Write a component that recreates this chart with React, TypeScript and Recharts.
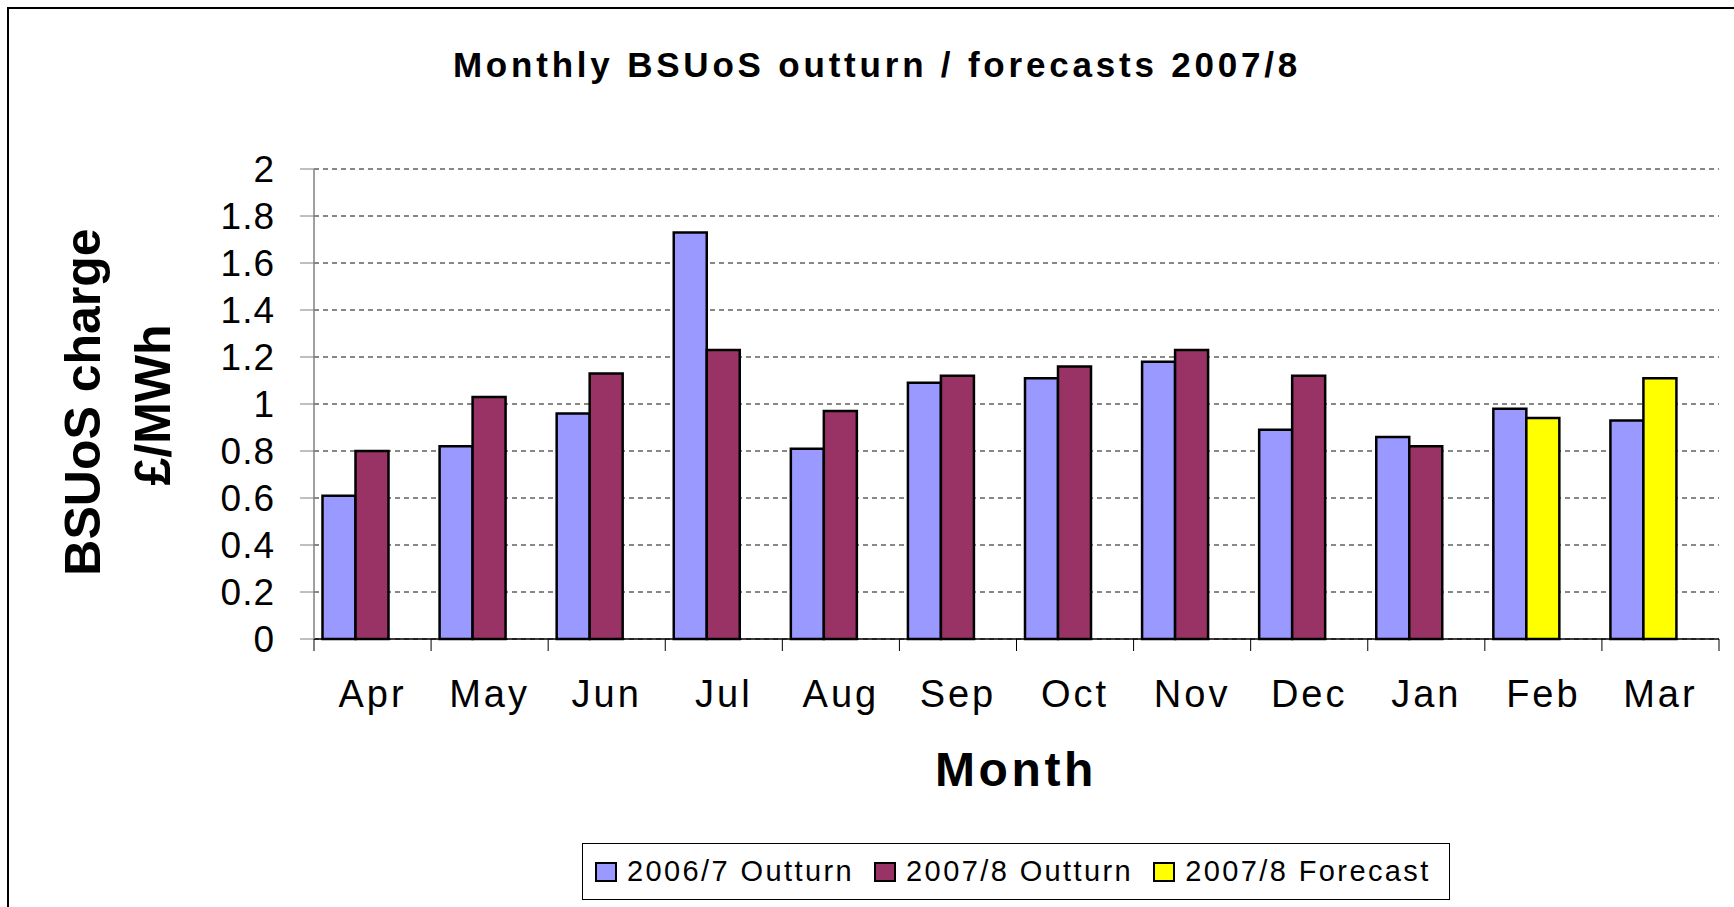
import { BarChart, Bar, XAxis, YAxis, CartesianGrid } from "recharts";

const FONT = "'Liberation Sans', Arial, sans-serif";

const months = ["Apr", "May", "Jun", "Jul", "Aug", "Sep", "Oct", "Nov", "Dec", "Jan", "Feb", "Mar"];
const outturn0607 = [0.61, 0.82, 0.96, 1.73, 0.81, 1.09, 1.11, 1.18, 0.89, 0.86, 0.98, 0.93];
const outturn0708 = [0.8, 1.03, 1.13, 1.23, 0.97, 1.12, 1.16, 1.23, 1.12, 0.82, null, null];
const forecast0708 = [null, null, null, null, null, null, null, null, null, null, 0.94, 1.11];
const yTicks = [0, 0.2, 0.4, 0.6, 0.8, 1, 1.2, 1.4, 1.6, 1.8, 2];

const series = [
  { key: "o0607", name: "2006/7 Outturn", color: "#9999FF" },
  { key: "o0708", name: "2007/8 Outturn", color: "#993366" },
  { key: "f0708", name: "2007/8 Forecast", color: "#FFFF00" },
];

const data = months.map((m, i) => ({
  month: m,
  o0607: outturn0607[i],
  o0708: outturn0708[i],
  f0708: forecast0708[i],
}));

// ticks sit between the months, like the old excel chart
function MonthTick(props: any) {
  const { x, y, payload, index, width } = props;
  const half = payload?.offset ?? width / months.length / 2;
  const top = y - 41;
  return (
    <g>
      <line x1={x - half} x2={x - half} y1={top} y2={top + 12} stroke="#000" />
      {index === months.length - 1 && (
        <line x1={x + half} x2={x + half} y1={top} y2={top + 12} stroke="#000" />
      )}
      <text
        x={x}
        y={y}
        dy="0.71em"
        textAnchor="middle"
        fontSize={38}
        letterSpacing={3}
        fill="#000"
        fontFamily={FONT}
      >
        {payload.value}
      </text>
    </g>
  );
}

const boldText = {
  position: "absolute" as const,
  lineHeight: 1,
  fontWeight: "bold" as const,
  whiteSpace: "nowrap" as const,
};

export default function App() {
  return (
    <div
      style={{
        position: "absolute",
        left: 0,
        top: 0,
        width: 1734,
        height: 907,
        overflow: "hidden",
        background: "#fff",
        fontFamily: FONT,
      }}
    >
      <div
        style={{
          position: "absolute",
          left: 7,
          top: 7,
          width: 1900,
          height: 1100,
          border: "2px solid #000",
        }}
      />

      <div
        style={{
          ...boldText,
          left: 377,
          top: 47,
          width: 1000,
          textAlign: "center",
          fontSize: 35,
          letterSpacing: 3.8,
        }}
      >
        Monthly BSUoS outturn / forecasts 2007/8
      </div>

      <div
        style={{
          ...boldText,
          left: 83,
          top: 402,
          transform: "translate(-50%, -50%) rotate(-90deg)",
          fontSize: 50,
        }}
      >
        BSUoS charge
      </div>
      <div
        style={{
          ...boldText,
          left: 153,
          top: 405,
          transform: "translate(-50%, -50%) rotate(-90deg)",
          fontSize: 50,
        }}
      >
        £/MWh
      </div>

      <div
        style={{
          ...boldText,
          left: 516,
          top: 746,
          width: 1000,
          textAlign: "center",
          fontSize: 48,
          letterSpacing: 3.6,
        }}
      >
        Month
      </div>

      <div style={{ position: "absolute", left: 0, top: 0 }}>
        <BarChart
          width={1734}
          height={907}
          data={data}
          margin={{ top: 169, right: 15, bottom: 208, left: 214 }}
          barCategoryGap={8.5}
          barGap={0}
        >
          <CartesianGrid vertical={false} stroke="#111" strokeDasharray="5 4" />
          <XAxis
            dataKey="month"
            interval={0}
            height={60}
            tickSize={12}
            tickMargin={29}
            tickLine={{ stroke: "none" }}
            axisLine={{ stroke: "#000", strokeWidth: 1.5 }}
            tick={<MonthTick />}
          />
          <YAxis
            width={100}
            domain={[0, 2]}
            ticks={yTicks}
            interval={0}
            tickSize={14}
            tickMargin={25}
            tickFormatter={(v: number) => String(v)}
            axisLine={{ stroke: "#808080", strokeWidth: 1.5 }}
            tickLine={{ stroke: "#808080" }}
            tick={{ fontSize: 37, fill: "#000", fontFamily: FONT, letterSpacing: 1 }}
          />
          <Bar dataKey="o0607" stackId="a" fill={series[0].color} stroke="#000" strokeWidth={2.5} isAnimationActive={false} />
          <Bar dataKey="o0708" stackId="b" fill={series[1].color} stroke="#000" strokeWidth={2.5} isAnimationActive={false} />
          <Bar dataKey="f0708" stackId="b" fill={series[2].color} stroke="#000" strokeWidth={2.5} isAnimationActive={false} />
          {/* empty third slot, keeps the pairs to the left of each month */}
          <Bar dataKey="spacer" stackId="c" legendType="none" isAnimationActive={false} />
        </BarChart>
      </div>

      <div
        style={{
          position: "absolute",
          left: 582,
          top: 843,
          width: 868,
          height: 57,
          boxSizing: "border-box",
          border: "1.5px solid #000",
          display: "flex",
          alignItems: "center",
          paddingLeft: 12,
          fontSize: 29,
          letterSpacing: 2.4,
          whiteSpace: "nowrap",
        }}
      >
        {series.map((s) => (
          <div key={s.key} style={{ display: "flex", alignItems: "center", marginRight: 20 }}>
            <span
              style={{
                display: "inline-block",
                width: 22,
                height: 20,
                boxSizing: "border-box",
                border: "2px solid #000",
                background: s.color,
                marginRight: 10,
              }}
            />
            <span>{s.name}</span>
          </div>
        ))}
      </div>
    </div>
  );
}
